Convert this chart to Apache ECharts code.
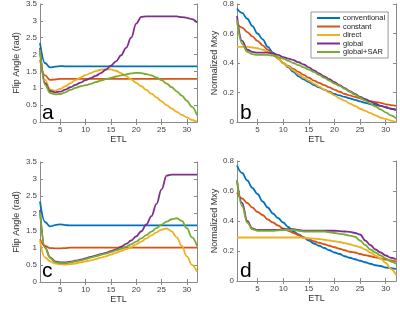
<!DOCTYPE html>
<html>
<head>
<meta charset="utf-8">
<script src="https://cdn.jsdelivr.net/npm/echarts@6/dist/echarts.min.js"></script>
<style>
  html, body { margin: 0; padding: 0; background: #fff; }
  #chart { width: 400px; height: 321px; }
</style>
</head>
<body>
<div id="chart"></div>
<script>
// echo train positions
var etl = [1,2,3,4,5,6,7,8,9,10,11,12,13,14,15,16,17,18,19,20,21,22,23,24,25,26,27,28,29,30,31,32];
var names = ['conventional', 'constant', 'direct', 'global', 'global+SAR'];
var colors = ['#0072BD', '#D95319', '#EDB120', '#7E2F8E', '#77AC30'];
var etlTicks = [5, 10, 15, 20, 25, 30];

// panel a - flip angles (rad)
var aConventional = [2.35,1.75,1.62,1.64,1.66,1.65,1.65,1.65,1.65,1.65,1.65,1.65,1.65,1.65,1.65,1.65,1.65,1.65,1.65,1.65,1.65,1.65,1.65,1.65,1.65,1.65,1.65,1.65,1.65,1.65,1.65,1.65];
var aConstant = [1.85,1.38,1.25,1.26,1.28,1.28,1.28,1.28,1.28,1.28,1.28,1.28,1.28,1.28,1.28,1.28,1.28,1.28,1.28,1.28,1.28,1.28,1.28,1.28,1.28,1.28,1.28,1.28,1.28,1.28,1.28,1.28];
var aDirect = [2.05,1.25,0.97,0.93,0.98,1.06,1.15,1.24,1.32,1.39,1.45,1.51,1.55,1.57,1.56,1.52,1.45,1.36,1.26,1.16,1.06,0.95,0.84,0.73,0.61,0.5,0.4,0.3,0.21,0.14,0.06,0.01];
var aGlobal = [2.2,1.15,0.92,0.88,0.9,0.96,1.03,1.1,1.17,1.24,1.3,1.37,1.45,1.55,1.67,1.8,1.98,2.2,2.5,2.92,3.12,3.13,3.13,3.13,3.13,3.13,3.13,3.13,3.11,3.09,3.05,2.95];
var aGlobalSAR = [2.15,1.1,0.86,0.82,0.83,0.88,0.95,1.01,1.06,1.09,1.13,1.18,1.23,1.27,1.31,1.35,1.38,1.41,1.44,1.46,1.45,1.42,1.38,1.32,1.24,1.14,1.03,0.91,0.78,0.63,0.45,0.2];

// panel b - normalized Mxy
var bConventional = [0.77,0.74,0.7,0.65,0.6,0.56,0.51,0.47,0.43,0.4,0.37,0.34,0.31,0.29,0.27,0.25,0.235,0.22,0.205,0.19,0.18,0.17,0.16,0.15,0.14,0.13,0.12,0.115,0.11,0.1,0.09,0.085];
var bConstant = [0.67,0.64,0.61,0.58,0.55,0.52,0.49,0.46,0.43,0.4,0.38,0.36,0.34,0.32,0.3,0.28,0.265,0.25,0.235,0.22,0.205,0.19,0.18,0.17,0.16,0.15,0.14,0.135,0.13,0.12,0.115,0.11];
var bDirect = [0.51,0.51,0.51,0.505,0.5,0.49,0.475,0.455,0.43,0.4,0.375,0.35,0.325,0.3,0.28,0.26,0.24,0.22,0.2,0.18,0.16,0.145,0.125,0.11,0.09,0.075,0.06,0.045,0.03,0.02,0.01,0.0];
var bGlobal = [0.72,0.55,0.49,0.475,0.47,0.47,0.47,0.465,0.455,0.44,0.43,0.42,0.405,0.39,0.37,0.35,0.33,0.31,0.29,0.27,0.25,0.23,0.21,0.19,0.17,0.155,0.14,0.125,0.11,0.1,0.09,0.08];
var bGlobalSAR = [0.69,0.53,0.475,0.46,0.455,0.455,0.455,0.45,0.44,0.43,0.415,0.4,0.385,0.37,0.355,0.34,0.32,0.3,0.28,0.26,0.245,0.225,0.205,0.185,0.165,0.145,0.125,0.105,0.085,0.065,0.045,0.025];

// panel c - flip angles (rad)
var cConventional = [2.35,1.75,1.62,1.66,1.68,1.66,1.65,1.65,1.65,1.65,1.65,1.65,1.65,1.65,1.65,1.65,1.65,1.65,1.65,1.65,1.65,1.65,1.65,1.65,1.65,1.65,1.65,1.65,1.65,1.65,1.65,1.65];
var cConstant = [1.25,1.05,0.99,0.98,0.98,0.99,1.0,1.0,1.0,1.0,1.0,1.0,1.0,1.0,1.0,1.0,1.0,1.0,1.0,1.0,1.0,1.0,1.0,1.0,1.0,1.0,1.0,1.0,1.0,1.0,1.0,1.0];
var cDirect = [1.2,0.72,0.6,0.54,0.52,0.51,0.52,0.54,0.57,0.6,0.63,0.67,0.71,0.75,0.8,0.85,0.9,0.96,1.02,1.1,1.18,1.27,1.36,1.45,1.53,1.56,1.48,1.3,1.05,0.75,0.5,0.3];
var cGlobal = [2.1,1.0,0.72,0.6,0.57,0.57,0.59,0.62,0.65,0.69,0.73,0.77,0.81,0.85,0.9,0.95,1.03,1.11,1.21,1.33,1.48,1.68,1.92,2.28,2.7,3.1,3.13,3.13,3.13,3.13,3.13,3.13];
var cGlobalSAR = [2.05,1.0,0.7,0.58,0.55,0.55,0.57,0.6,0.63,0.67,0.71,0.75,0.79,0.83,0.87,0.92,0.97,1.03,1.1,1.18,1.27,1.37,1.47,1.57,1.67,1.76,1.83,1.86,1.78,1.57,1.3,1.05];

// panel d - normalized Mxy
var dConventional = [0.77,0.72,0.67,0.62,0.58,0.53,0.49,0.45,0.42,0.39,0.36,0.33,0.31,0.29,0.27,0.25,0.235,0.22,0.205,0.19,0.18,0.165,0.155,0.145,0.135,0.125,0.115,0.105,0.1,0.09,0.085,0.08];
var dConstant = [0.59,0.55,0.52,0.49,0.46,0.44,0.41,0.39,0.37,0.35,0.335,0.32,0.305,0.29,0.28,0.265,0.255,0.245,0.235,0.225,0.215,0.205,0.195,0.19,0.18,0.172,0.165,0.158,0.15,0.143,0.137,0.13];
var dDirect = [0.29,0.29,0.29,0.29,0.29,0.29,0.29,0.29,0.29,0.29,0.29,0.29,0.29,0.288,0.285,0.283,0.28,0.275,0.27,0.265,0.26,0.253,0.245,0.235,0.225,0.21,0.19,0.17,0.15,0.12,0.08,0.04];
var dGlobal = [0.67,0.52,0.4,0.35,0.34,0.34,0.34,0.34,0.34,0.345,0.345,0.345,0.34,0.335,0.335,0.335,0.335,0.335,0.335,0.335,0.333,0.33,0.327,0.32,0.31,0.27,0.24,0.21,0.19,0.17,0.155,0.145];
var dGlobalSAR = [0.67,0.5,0.39,0.345,0.335,0.335,0.335,0.335,0.338,0.34,0.34,0.34,0.335,0.33,0.33,0.33,0.33,0.33,0.325,0.32,0.315,0.31,0.303,0.295,0.27,0.24,0.21,0.19,0.17,0.15,0.13,0.115];

var panels = [
  { letter: 'a', max: 3.5, step: 0.5, yName: 'Flip Angle (rad)', lines: [aConventional, aConstant, aDirect, aGlobal, aGlobalSAR] },
  { letter: 'b', max: 0.8, step: 0.2, yName: 'Normalized Mxy', lines: [bConventional, bConstant, bDirect, bGlobal, bGlobalSAR] },
  { letter: 'c', max: 3.5, step: 0.5, yName: 'Flip Angle (rad)', lines: [cConventional, cConstant, cDirect, cGlobal, cGlobalSAR] },
  { letter: 'd', max: 0.8, step: 0.2, yName: 'Normalized Mxy', lines: [dConventional, dConstant, dDirect, dGlobal, dGlobalSAR] }
];

var font = 'Liberation Sans, Arial, Helvetica, sans-serif';
var grids = [
  { left: 40, top: 4, width: 157, height: 118 },
  { left: 237, top: 4, width: 159, height: 118 },
  { left: 40, top: 162, width: 157, height: 120 },
  { left: 237, top: 161, width: 159, height: 120 }
];
var letterPos = [[42, 103], [240, 103], [42, 261], [240, 261]];

var myChart = echarts.init(document.getElementById('chart'), null, { renderer: 'canvas' });
var xAxes = [], yAxes = [], series = [], graphics = [];
var axisLine = { show: true, lineStyle: { color: '#8a8a8a', width: 1 } };

panels.forEach(function (p, i) {
  // bottom x axis + left y axis
  xAxes.push({
    type: 'value', gridIndex: i, min: 1, max: 32,
    name: 'ETL', nameLocation: 'middle', nameGap: 10,
    nameTextStyle: { fontSize: 9, color: '#333', fontFamily: font },
    axisLine: axisLine,
    axisTick: { show: true, inside: true, length: 3, customValues: etlTicks, lineStyle: { color: '#8a8a8a' } },
    axisLabel: { customValues: etlTicks, fontSize: 8, color: '#444', margin: 4, fontFamily: font },
    splitLine: { show: false }
  });
  yAxes.push({
    type: 'value', gridIndex: i, min: 0, max: p.max, interval: p.step,
    name: p.yName, nameLocation: 'middle', nameGap: i % 2 ? 18 : 19,
    nameTextStyle: { fontSize: 9, color: '#333', fontFamily: font },
    axisLine: axisLine,
    axisTick: { show: true, inside: true, length: 3, lineStyle: { color: '#8a8a8a' } },
    axisLabel: { fontSize: 8, color: '#444', margin: 3, fontFamily: font },
    splitLine: { show: false }
  });
  p.lines.forEach(function (vals, k) {
    series.push({
      name: names[k], type: 'line', xAxisIndex: i, yAxisIndex: i,
      data: etl.map(function (x, j) { return [x, vals[j]]; }),
      smooth: 0.4, smoothMonotone: 'x', symbol: 'none',
      lineStyle: { color: colors[k], width: 1.8 },
      itemStyle: { color: colors[k] }
    });
  });
  graphics.push({
    type: 'text', left: letterPos[i][0], top: letterPos[i][1],
    style: { text: p.letter, fontSize: 21, fill: '#000', fontFamily: font }
  });
});

// mirror axes so every panel is boxed
panels.forEach(function (p, i) {
  xAxes.push({
    type: 'value', gridIndex: i, min: 1, max: 32, position: 'top',
    axisLine: axisLine,
    axisTick: { show: true, inside: true, length: 3, customValues: etlTicks, lineStyle: { color: '#8a8a8a' } },
    axisLabel: { show: false }, splitLine: { show: false }
  });
  yAxes.push({
    type: 'value', gridIndex: i, min: 0, max: p.max, interval: p.step, position: 'right',
    axisLine: axisLine,
    axisTick: { show: true, inside: true, length: 3, lineStyle: { color: '#8a8a8a' } },
    axisLabel: { show: false }, splitLine: { show: false }
  });
});

var option = {
  animation: false,
  backgroundColor: '#fff',
  grid: grids,
  xAxis: xAxes,
  yAxis: yAxes,
  legend: {
    data: names,
    orient: 'vertical',
    left: 311, top: 12,
    padding: [2, 3, 2, 5],
    itemWidth: 23, itemHeight: 8, itemGap: 0.5,
    itemStyle: { opacity: 0 },
    backgroundColor: '#fff',
    borderColor: '#999', borderWidth: 1, borderRadius: 0,
    textStyle: { fontSize: 7.5, lineHeight: 8, color: '#222', fontFamily: font, padding: [0, 0, 0, -2] }
  },
  graphic: graphics,
  series: series
};
myChart.setOption(option);
</script>
</body>
</html>
